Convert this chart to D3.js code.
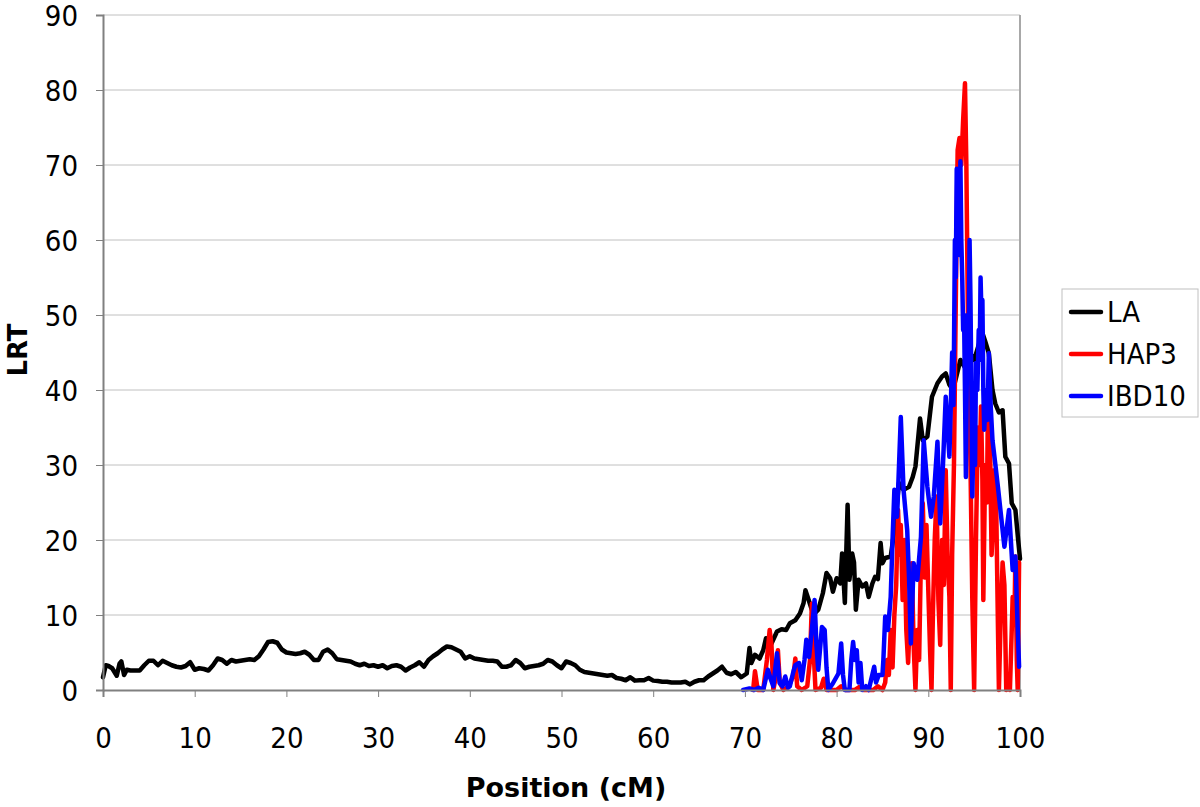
<!DOCTYPE html>
<html>
<head>
<meta charset="utf-8">
<script src="https://d3js.org/d3.v7.min.js"></script>
<style>
  html, body { margin: 0; padding: 0; background: #fff; }
  svg { display: block; }
</style>
</head>
<body>
<svg id="chart" width="1200" height="807"></svg>
<script>
// ---------------- data ----------------
const seriesNames = ["LA", "HAP3", "IBD10"];
const xTicks = [0, 10, 20, 30, 40, 50, 60, 70, 80, 90, 100];
const yTicks = [0, 10, 20, 30, 40, 50, 60, 70, 80, 90];

const laPos = [0,0.3,0.6,1.0,1.5,1.8,2.0,2.3,2.6,3.0,3.5,4.0,4.5,5.0,5.5,6.0,6.5,7.0,7.5,8.0,8.5,9.0,9.5,10.0,10.5,11.0,11.5,12.0,12.5,13.0,13.5,14.0,14.5,15.0,15.5,16.0,16.5,17.0,17.5,18.0,18.5,19.0,19.5,20.0,20.5,21.0,21.5,22.0,22.5,23.0,23.5,24.0,24.5,25.0,25.5,26.0,26.5,27.0,27.5,28.0,28.5,29.0,29.5,30.0,30.5,31.0,31.5,32.0,32.5,33.0,33.5,34.0,34.5,35.0,35.5,36.0,36.5,37.0,37.5,38.0,38.5,39.0,39.5,40.0,40.5,41.0,41.5,42.0,42.5,43.0,43.5,44.0,44.5,45.0,45.5,46.0,46.5,47.0,47.5,48.0,48.5,49.0,49.5,50.0,50.5,51.0,51.5,52.0,52.5,53.0,53.5,54.0,54.5,55.0,55.5,56.0,56.5,57.0,57.5,58.0,58.5,59.0,59.5,60.0,60.5,61.0,61.5,62.0,62.5,63.0,63.5,64.0,64.5,65.0,65.5,66.0,66.5,67.0,67.5,68.0,68.5,69.0,69.6,70.2,70.5,70.7,71.1,71.6,72.0,72.3,72.5,72.9,73.5,74.0,74.5,74.9,75.5,76.0,76.4,76.6,76.9,77.3,77.6,78.0,78.5,78.9,79.3,79.6,80.0,80.4,80.6,80.9,81.2,81.4,81.7,81.9,82.1,82.4,82.8,83.2,83.5,83.9,84.2,84.5,84.8,85.0,85.3,85.9,86.3,86.8,87.3,87.9,88.3,88.6,89.1,89.4,89.9,90.4,91.0,91.5,91.9,92.3,92.7,93.1,93.5,94.0,94.5,95.0,95.5,95.9,96.2,96.6,97.0,97.3,97.7,98.1,98.4,98.8,99.1,99.5,99.8,100];
const laVal = [1.7,3.3,3.2,2.9,1.9,3.5,3.8,2.0,2.7,2.6,2.6,2.6,3.3,3.9,3.9,3.3,3.9,3.6,3.3,3.1,3.0,3.2,3.7,2.7,2.9,2.8,2.6,3.3,4.2,4.0,3.5,4.0,3.8,3.9,4.0,4.1,4.0,4.5,5.4,6.4,6.5,6.3,5.4,5.0,4.9,4.8,4.9,5.1,4.7,4.0,4.0,5.1,5.4,4.9,4.1,4.0,3.9,3.8,3.5,3.3,3.5,3.2,3.3,3.1,3.3,2.9,3.2,3.3,3.1,2.6,3.0,3.3,3.7,3.1,4.0,4.5,4.9,5.4,5.8,5.7,5.4,5.1,4.2,4.5,4.2,4.1,4.0,3.9,3.9,3.8,3.1,3.1,3.3,4.0,3.6,2.9,3.1,3.2,3.3,3.5,4.0,3.8,3.3,2.9,3.8,3.6,3.3,2.7,2.4,2.3,2.2,2.1,2.0,1.9,2.0,1.6,1.5,1.3,1.7,1.25,1.3,1.3,1.6,1.25,1.2,1.1,1.1,1.0,1.0,1.0,1.1,0.75,1.1,1.3,1.3,1.8,2.2,2.6,3.1,2.3,2.1,2.4,1.7,2.2,5.6,3.6,4.7,4.2,5.3,6.9,6.0,6.2,7.8,8.1,8.0,8.9,9.3,10.2,11.6,13.3,12.2,10.7,10.2,10.7,12.9,15.6,14.9,13.1,14.9,14.2,18.2,11.6,24.7,14.7,18.2,17.0,10.7,14.7,13.8,14.2,12.4,14.2,15.1,14.8,19.6,16.9,17.6,17.8,21.3,27.6,26.7,27.1,28.4,29.8,36.2,33.3,33.8,39.1,40.9,41.8,42.2,40.7,40.0,42.0,44.0,43.0,45.0,44.0,46.0,47.6,46.5,44.9,40.0,38.2,37.0,37.3,31.1,30.2,24.9,24.0,20.0,17.5];

const hapPos = [70.9,71.1,71.4,72.0,72.4,72.7,72.9,73.1,73.4,73.6,73.8,74.2,74.8,75.3,75.5,75.7,76.2,76.8,77.1,77.3,77.5,77.7,78.3,78.6,78.9,80.0,80.5,81.0,82.0,82.5,83.0,84.0,84.5,85.0,85.3,85.5,85.7,85.9,86.1,86.3,86.5,86.7,86.9,87.0,87.2,87.4,87.6,87.8,88.0,88.2,88.4,88.6,88.8,89.0,89.2,89.4,89.6,89.8,90.0,90.2,90.35,90.5,90.7,90.9,91.1,91.3,91.5,91.7,91.9,92.1,92.3,92.45,92.6,92.8,93.0,93.2,93.4,93.6,93.8,94.0,94.15,94.3,94.45,94.6,94.8,95.0,95.2,95.4,95.6,95.75,95.9,96.0,96.2,96.4,96.5,96.7,96.9,97.05,97.2,97.4,97.6,97.7,97.9,98.1,98.3,98.5,98.7,98.9,99.1,99.2,99.4,99.5,99.65,99.75,99.9];
const hapVal = [0,2.5,0,0,4,8.0,6,0,2,5.3,1,0,0.5,2,4.2,0.5,0,0.5,4,11.5,5,0,0.3,1.5,0,0,0.5,0,0,0.4,0,0,0.5,0,1,4,2,8,3,10,14,24,18,22,12,20,8,3.6,10,16.9,6,0,8,4,18,24.9,15,22,13.3,5,0,10,20,25.8,12,6,20,14,29.3,18,12.4,0,18,30.2,52,72,73.6,70,76,80.9,70,52,40,30,12,0,20,35,30,37.8,28,12,30,25,38.2,36,18,22,29.3,25,8,0,10,17,14,0,2,0,8,12.4,10,17.8,4,0,17];

const ibdPos = [69.8,70.5,71.0,71.5,72.0,72.5,72.8,73.1,73.5,73.8,74.1,74.4,74.7,74.9,75.3,75.5,75.9,76.2,76.5,76.7,77.0,77.3,77.6,77.8,78.0,78.4,78.7,78.9,79.1,79.6,80.2,80.5,80.7,80.9,81.4,81.6,81.8,82.0,82.2,82.4,82.6,82.8,83.2,83.5,84.1,84.3,84.6,85.0,85.1,85.3,85.6,85.9,86.1,86.3,86.6,87.0,87.3,87.7,87.9,88.1,88.4,88.6,88.8,89.2,89.5,89.9,90.1,90.3,90.6,91.0,91.3,91.6,91.9,92.3,92.5,92.6,92.75,92.9,93.0,93.1,93.2,93.3,93.4,93.5,93.6,93.7,93.8,93.9,94.0,94.1,94.2,94.3,94.4,94.5,94.6,94.7,94.8,94.9,95.0,95.1,95.2,95.35,95.5,95.6,95.7,95.8,95.9,96.0,96.1,96.3,96.45,96.6,96.8,97.0,97.3,97.6,97.9,98.3,98.6,98.8,99.0,99.2,99.5,99.7,99.9];
const ibdVal = [0,0.2,0,0.3,0,2.7,1.5,0.5,4.9,0.9,0.5,1.8,0.3,0.5,2.5,3.3,3.6,1.3,4,6.7,4.4,8,12,6,2.7,8.4,8.0,3,0,0.9,2.2,6.2,2,0,0,4,6.4,4,5.3,1,3.6,0,0.5,0,3.1,1,2,2,4,9.8,8,12.4,20,26.7,23.1,36.4,26.7,21.3,15,6.2,16.9,15.5,14.7,20.4,33.3,27.1,25,23.1,25.8,33.1,22.2,30,39.1,31.1,40,45,38,60,55,69.5,62,65,58,70.5,60,55,48,50,40,28.4,42,50,45,60,52,40,25.8,32,35,30,43.6,40,48,44,55,50,52,40,34.7,40,36,44.9,38,33.3,30.2,27,23.6,19.1,22,24,20,16,17.8,10,3.1];

const seriesColors = ["#000000", "#ff0000", "#0000ff"];

// ---------------- layout ----------------
const svg = d3.select("#chart");
const mLeft = 103, mRight = 1020, mTop = 15, mBottom = 690;
const x = d3.scaleLinear().domain([0, 100]).range([mLeft, mRight]);
const y = d3.scaleLinear().domain([0, 90]).range([mBottom, mTop]);

const tickFont = "'DejaVu Sans Condensed', 'DejaVu Sans', sans-serif";

// gridlines
svg.append("g")
  .selectAll("line").data(yTicks.filter(d => d > 0)).join("line")
  .attr("x1", mLeft).attr("x2", mRight)
  .attr("y1", d => y(d)).attr("y2", d => y(d))
  .attr("stroke", "#c0c0c0").attr("stroke-width", 1);

// right border
svg.append("line")
  .attr("x1", mRight).attr("x2", mRight).attr("y1", mTop).attr("y2", mBottom)
  .attr("stroke", "#a8a8a8").attr("stroke-width", 2);

// series
const data = [
  laPos.map((p, i) => [p, laVal[i]]),
  hapPos.map((p, i) => [p, hapVal[i]]),
  ibdPos.map((p, i) => [p, ibdVal[i]])
];
const line = d3.line().x(d => x(d[0])).y(d => y(d[1]));
const plot = svg.append("g");
data.forEach((s, i) => {
  plot.append("path")
    .attr("d", line(s))
    .attr("fill", "none")
    .attr("stroke", seriesColors[i])
    .attr("stroke-width", 4.5)
    .attr("stroke-linejoin", "round")
    .attr("stroke-linecap", "round");
});

// axes
const xAxis = d3.axisBottom(x).tickValues(xTicks).tickSize(7).tickPadding(30).tickFormat(d3.format("d"));
const gx = svg.append("g").attr("transform", `translate(0,${mBottom})`).call(xAxis);
gx.select(".domain").attr("stroke", "#808080").attr("stroke-width", 2);
gx.selectAll(".tick line").attr("stroke", "#808080").attr("stroke-width", 1);
gx.selectAll(".tick text")
  .attr("font-family", tickFont).attr("font-size", 29).attr("fill", "#000");

const yAxis = d3.axisLeft(y).tickValues(yTicks).tickSize(7).tickPadding(18).tickFormat(d3.format("d"));
const gy = svg.append("g").attr("transform", `translate(${mLeft},0)`).call(yAxis);
gy.select(".domain").attr("stroke", "#808080").attr("stroke-width", 2);
gy.selectAll(".tick line").attr("stroke", "#808080").attr("stroke-width", 1);
gy.selectAll(".tick text")
  .attr("font-family", tickFont).attr("font-size", 29).attr("fill", "#000")
  .attr("dy", "0.36em");

// axis titles
svg.append("text")
  .attr("x", 566).attr("y", 797)
  .attr("text-anchor", "middle")
  .attr("font-family", "'DejaVu Sans', sans-serif").attr("font-weight", "bold").attr("font-size", 27)
  .text("Position (cM)");

svg.append("text")
  .attr("transform", "translate(27,350) rotate(-90)")
  .attr("text-anchor", "middle")
  .attr("font-family", "'DejaVu Sans', sans-serif").attr("font-weight", "bold").attr("font-size", 26)
  .text("LRT");

// legend
const lg = svg.append("g");
lg.append("rect")
  .attr("x", 1062).attr("y", 289).attr("width", 136).attr("height", 128)
  .attr("fill", "#fff").attr("stroke", "#c0c0c0").attr("stroke-width", 1);
const ly = d3.scalePoint().domain(seriesNames).range([312, 396]);
seriesNames.forEach((n, i) => {
  lg.append("line")
    .attr("x1", 1071).attr("x2", 1101).attr("y1", ly(n)).attr("y2", ly(n))
    .attr("stroke", seriesColors[i]).attr("stroke-width", 4.5).attr("stroke-linecap", "round");
  lg.append("text")
    .attr("x", 1107).attr("y", ly(n)).attr("dy", "0.36em")
    .attr("font-family", tickFont).attr("font-size", 29).attr("fill", "#000")
    .text(n);
});
</script>
</body>
</html>
